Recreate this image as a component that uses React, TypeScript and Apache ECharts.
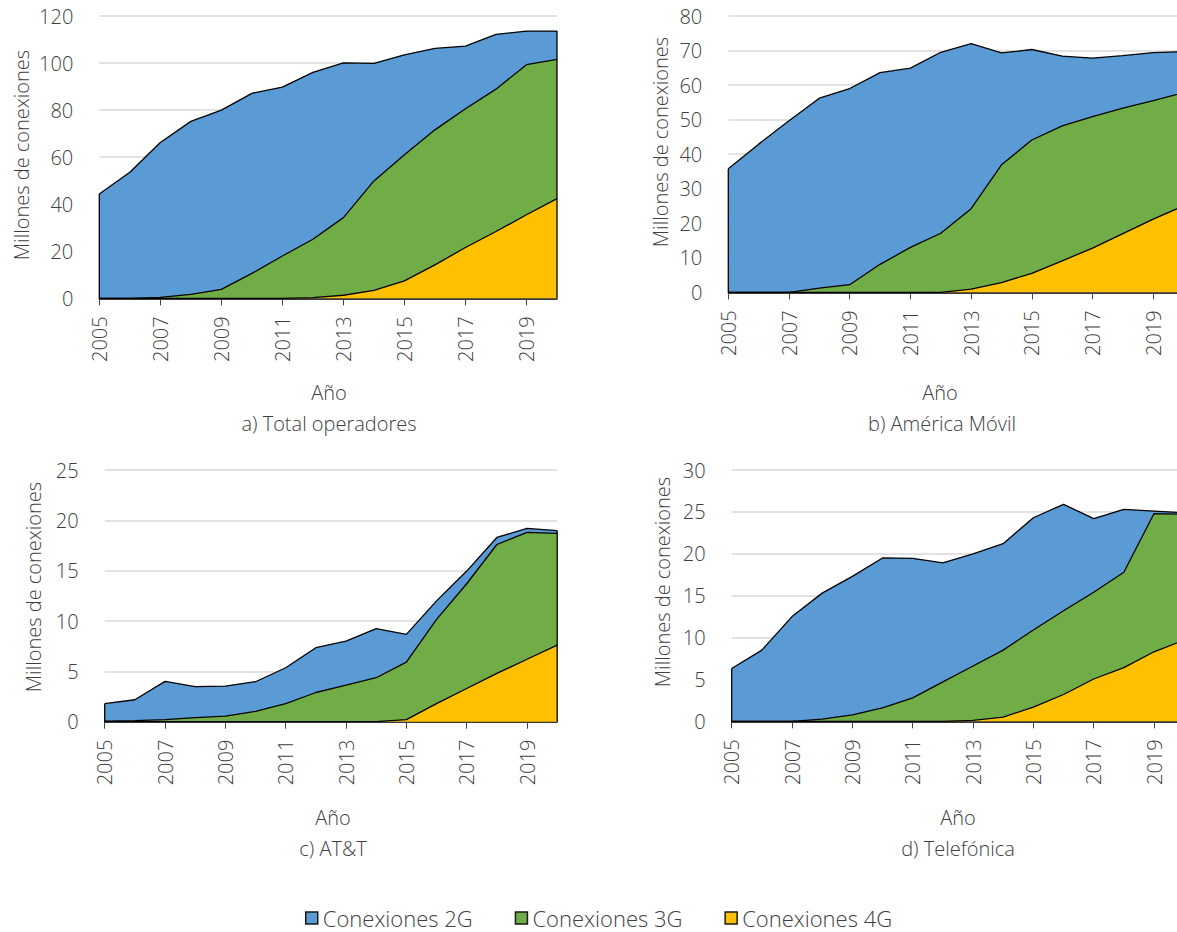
import React, { useEffect, useRef } from "react";
import * as echarts from "echarts";

const years = ["2005","2006","2007","2008","2009","2010","2011","2012","2013","2014","2015","2016","2017","2018","2019","2020"];

// a) Total operadores
const totalG2 = [44.3, 53.6, 65.8, 73.5, 76.2, 76.5, 71.8, 70.9, 65.8, 50.0, 42.5, 34.6, 26.6, 23.3, 14.3, 12.0];
const totalG3 = [0, 0, 0.4, 1.7, 3.8, 10.6, 18.0, 24.8, 33.0, 46.5, 53.6, 57.4, 59.0, 60.5, 63.8, 59.2];
const totalG4 = [0, 0, 0, 0, 0, 0, 0, 0.3, 1.3, 3.4, 7.4, 14.2, 21.6, 28.4, 35.5, 42.4];

// b) América Móvil
const amxG2 = [35.8, 42.9, 49.7, 55.0, 56.8, 55.5, 51.9, 52.4, 47.8, 32.4, 26.2, 20.2, 16.9, 15.2, 13.9, 11.9];
const amxG3 = [0, 0, 0, 1.2, 2.2, 8.1, 13.0, 17.1, 23.3, 34.1, 38.6, 39.1, 38.1, 36.3, 34.3, 32.8];
const amxG4 = [0, 0, 0, 0, 0, 0, 0, 0, 0.9, 2.8, 5.5, 9.1, 12.8, 17.0, 21.2, 25.0];

// c) AT&T
const attG2 = [1.74, 2.08, 3.8, 3.08, 2.98, 2.94, 3.57, 4.45, 4.36, 4.87, 2.75, 1.84, 1.26, 0.7, 0.4, 0.27];
const attG3 = [0.05, 0.1, 0.2, 0.4, 0.56, 1.03, 1.79, 2.9, 3.64, 4.37, 5.72, 8.36, 10.4, 12.8, 12.6, 11.1];
const attG4 = [0, 0, 0, 0, 0, 0, 0, 0, 0, 0, 0.2, 1.8, 3.3, 4.8, 6.2, 7.6];

// d) Telefónica
const telG2 = [6.3, 8.5, 12.5, 15.05, 16.54, 17.9, 16.65, 14.2, 13.4, 12.7, 13.4, 12.7, 8.8, 7.5, 0.3, 0.2];
const telG3 = [0, 0, 0, 0.25, 0.76, 1.6, 2.8, 4.7, 6.5, 8.0, 9.2, 10.0, 10.35, 11.4, 16.5, 15.0];
const telG4 = [0, 0, 0, 0, 0, 0, 0, 0, 0.1, 0.5, 1.7, 3.2, 5.05, 6.4, 8.3, 9.7];

const seriesNames = ["Conexiones 2G", "Conexiones 3G", "Conexiones 4G"];
const colors = { g2: "#5B9BD5", g3: "#70AD47", g4: "#FFC000" };

const panels = [
  { g2: totalG2, g3: totalG3, g4: totalG4, max: 120, interval: 20, title: "a) Total operadores",
    grid: { left: 99.3, top: 16, width: 457.7, height: 282.3 }, yName: [21, 155], xName: [329, 392], sub: [329, 423] },
  { g2: amxG2, g3: amxG3, g4: amxG4, max: 80, interval: 10, title: "b) América Móvil",
    grid: { left: 728.3, top: 16, width: 455.3, height: 276.3 }, yName: [660, 142], xName: [940, 392], sub: [942, 423] },
  { g2: attG2, g3: attG3, g4: attG4, max: 25, interval: 5, title: "c) AT&T",
    grid: { left: 104.7, top: 470, width: 452.5, height: 251.7 }, yName: [33, 587], xName: [333, 817], sub: [333, 848] },
  { g2: telG2, g3: telG3, g4: telG4, max: 30, interval: 5, title: "d) Telefónica",
    grid: { left: 731.7, top: 470, width: 452.5, height: 251.3 }, yName: [662, 582], xName: [958, 817], sub: [958, 848] },
];

const FONT = "'Open Sans', 'Noto Sans', sans-serif";
const TEXT = "#404040";

export default function App() {
  const ref = useRef<HTMLDivElement>(null);
  useEffect(() => {
    document.body.style.margin = "0";
    const chart = echarts.init(ref.current as HTMLDivElement, null, { renderer: "svg" });
    const grids: any[] = [];
    const xAxes: any[] = [];
    const yAxes: any[] = [];
    const series: any[] = [];
    const graphics: any[] = [];
    panels.forEach((p, i) => {
      grids.push({ ...p.grid, containLabel: false });
      xAxes.push({
        type: "category", gridIndex: i, data: years, boundaryGap: false,
        axisLine: { lineStyle: { color: "#000", width: 1.5 } },
        axisTick: { show: true, interval: 1, length: 7, lineStyle: { color: "#404040", width: 1 } },
        axisLabel: { interval: 1, rotate: 90, margin: 18, color: TEXT, fontSize: 20, fontFamily: FONT, fontWeight: 300 },
        splitLine: { show: false },
      });
      yAxes.push({
        type: "value", gridIndex: i, min: 0, max: p.max, interval: p.interval,
        axisLine: { show: false }, axisTick: { show: false },
        axisLabel: { margin: 26, color: TEXT, fontSize: 20, fontFamily: FONT, fontWeight: 300 },
        splitLine: { lineStyle: { color: "#d9d9d9", width: 1.5 } },
      });
      const mk = (name: string, data: number[], color: string) => ({
        name, type: "line", xAxisIndex: i, yAxisIndex: i, stack: "s" + i, data,
        symbol: "none", color, itemStyle: { color },
        lineStyle: { color: "#000", width: 1.3 },
        areaStyle: { color, opacity: 1 }, z: 2,
      });
      series.push(mk(seriesNames[2], p.g4, colors.g4));
      series.push(mk(seriesNames[1], p.g3, colors.g3));
      series.push(mk(seriesNames[0], p.g2, colors.g2));
      const last = years.length - 1;
      const tot = (k: number) => p.g2[k] + p.g3[k] + p.g4[k];
      [0, last].forEach((k) => {
        series.push({
          type: "line", xAxisIndex: i, yAxisIndex: i, silent: true, symbol: "none",
          data: [[k, 0], [k, tot(k)]], lineStyle: { color: "#000", width: 1.3 }, z: 3,
        });
      });
      const txt = (x: number, y: number, text: string, rot = 0) => ({
        type: "text", x, y, rotation: rot,
        style: { text, fill: TEXT, font: `300 20px ${FONT}`, align: "center", verticalAlign: "middle" },
      });
      graphics.push(txt(p.yName[0], p.yName[1], "Millones de conexiones", Math.PI / 2));
      graphics.push(txt(p.xName[0], p.xName[1], "Año"));
      graphics.push(txt(p.sub[0], p.sub[1], p.title));
    });
    chart.setOption({
      animation: false,
      backgroundColor: "#fff",
      grid: grids, xAxis: xAxes, yAxis: yAxes, series,
      legend: {
        data: seriesNames, left: 300, top: 902, icon: "rect", itemWidth: 12, itemHeight: 12, itemGap: 42,
        itemStyle: { borderColor: "#1a1a1a", borderWidth: 1.5 },
        textStyle: { color: TEXT, fontSize: 22, fontFamily: FONT, fontWeight: 300 },
        selectedMode: false,
      },
      graphic: graphics,
    });
    return () => chart.dispose();
  }, []);
  return (
    <div style={{ width: 1177, height: 932, overflow: "hidden", position: "relative" }}>
      <div ref={ref} style={{ width: 1200, height: 932 }} />
    </div>
  );
}
